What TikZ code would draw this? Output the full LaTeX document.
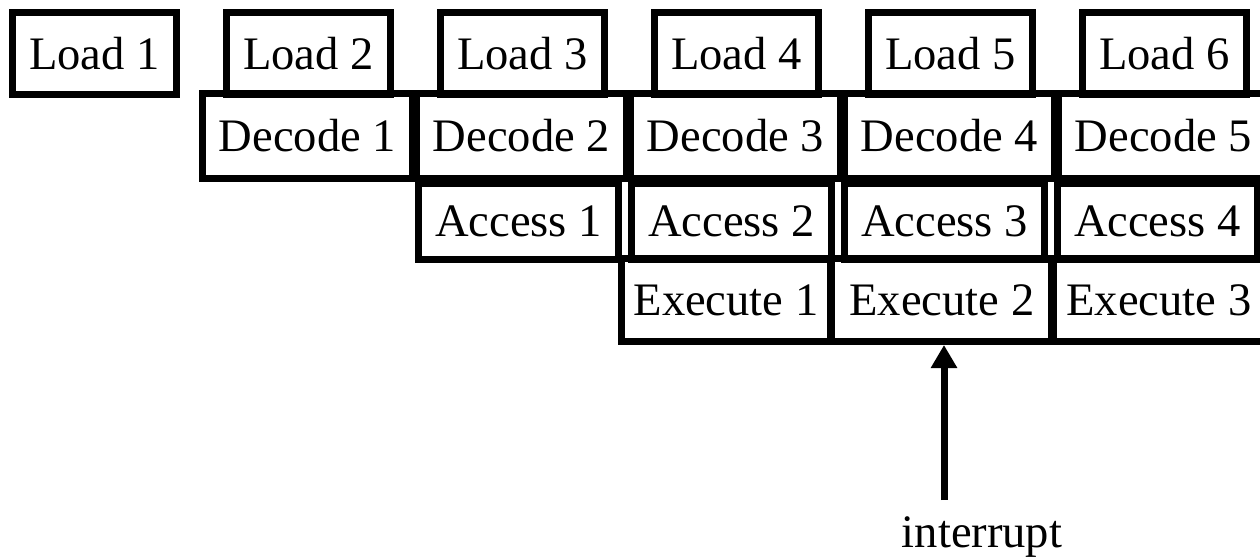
\documentclass[tikz,border=0pt]{standalone}
\usepackage{fontspec}
\setmainfont{Liberation Serif}
\usetikzlibrary{positioning,arrows.meta}
\tikzstyle{stage} = [rectangle, inner sep=0pt, text centered, draw=black, line width=0.14cm, font=\fontsize{26.5}{30}\selectfont]
\tikzstyle{load} = [stage, minimum width=3.28cm, minimum height=1.64cm]
\tikzstyle{decode} = [stage, minimum width=4.2cm, minimum height=1.7cm]
\tikzstyle{access} = [stage, minimum width=4.0cm, minimum height=1.52cm]
\tikzstyle{execute} = [stage, minimum width=4.2cm, minimum height=1.66cm]
\tikzstyle{arrow} = [line width=0.14cm, -{Triangle[width=0.5cm,length=0.46cm]}]
\begin{document}
\begin{tikzpicture}[x=0.02cm, y=-0.02cm, node distance=4.28cm]
	\useasboundingbox (0,0) rectangle (1260,559);

	% fetch row
	\node (load1) [load] at (94.5,53.5) {Load 1};
	\node (load2) [load, right of=load1] {Load 2};
	\node (load3) [load, right of=load2] {Load 3};
	\node (load4) [load, right of=load3] {Load 4};
	\node (load5) [load, right of=load4] {Load 5};
	\node (load6) [load, right of=load5] {Load 6};

	% decode row
	\node (decode1) [decode] at (307.5,136) {Decode 1};
	\node (decode2) [decode, right of=decode1] {Decode 2};
	\node (decode3) [decode, right of=decode2] {Decode 3};
	\node (decode4) [decode, right of=decode3] {Decode 4};
	\node (decode5) [decode, right of=decode4] {Decode 5};

	% access row
	\node (access1) [access] at (518.5,221.5) {Access 1};
	\node (access2) [access, right of=access1, xshift=-0.02cm] {Access 2};
	\node (access3) [access, right of=access2, xshift=-0.02cm] {Access 3};
	\node (access4) [access, right of=access3, xshift=-0.02cm] {Access 4};

	% execute row
	\node (execute1) [execute] at (726,300) {Execute 1};
	\node (execute2) [execute, right of=execute1, xshift=0.04cm, minimum width=4.4cm] {Execute 2};
	\node (execute3) [execute, right of=execute2, xshift=0.06cm] {Execute 3};

	\coordinate (irq) at (944,500);
	\node (interrupt) [font=\fontsize{26.5}{30}\selectfont] at (982,537) {interrupt};
	\draw [arrow] (irq) -- (irq |- execute2.south);

\end{tikzpicture}
\end{document}
